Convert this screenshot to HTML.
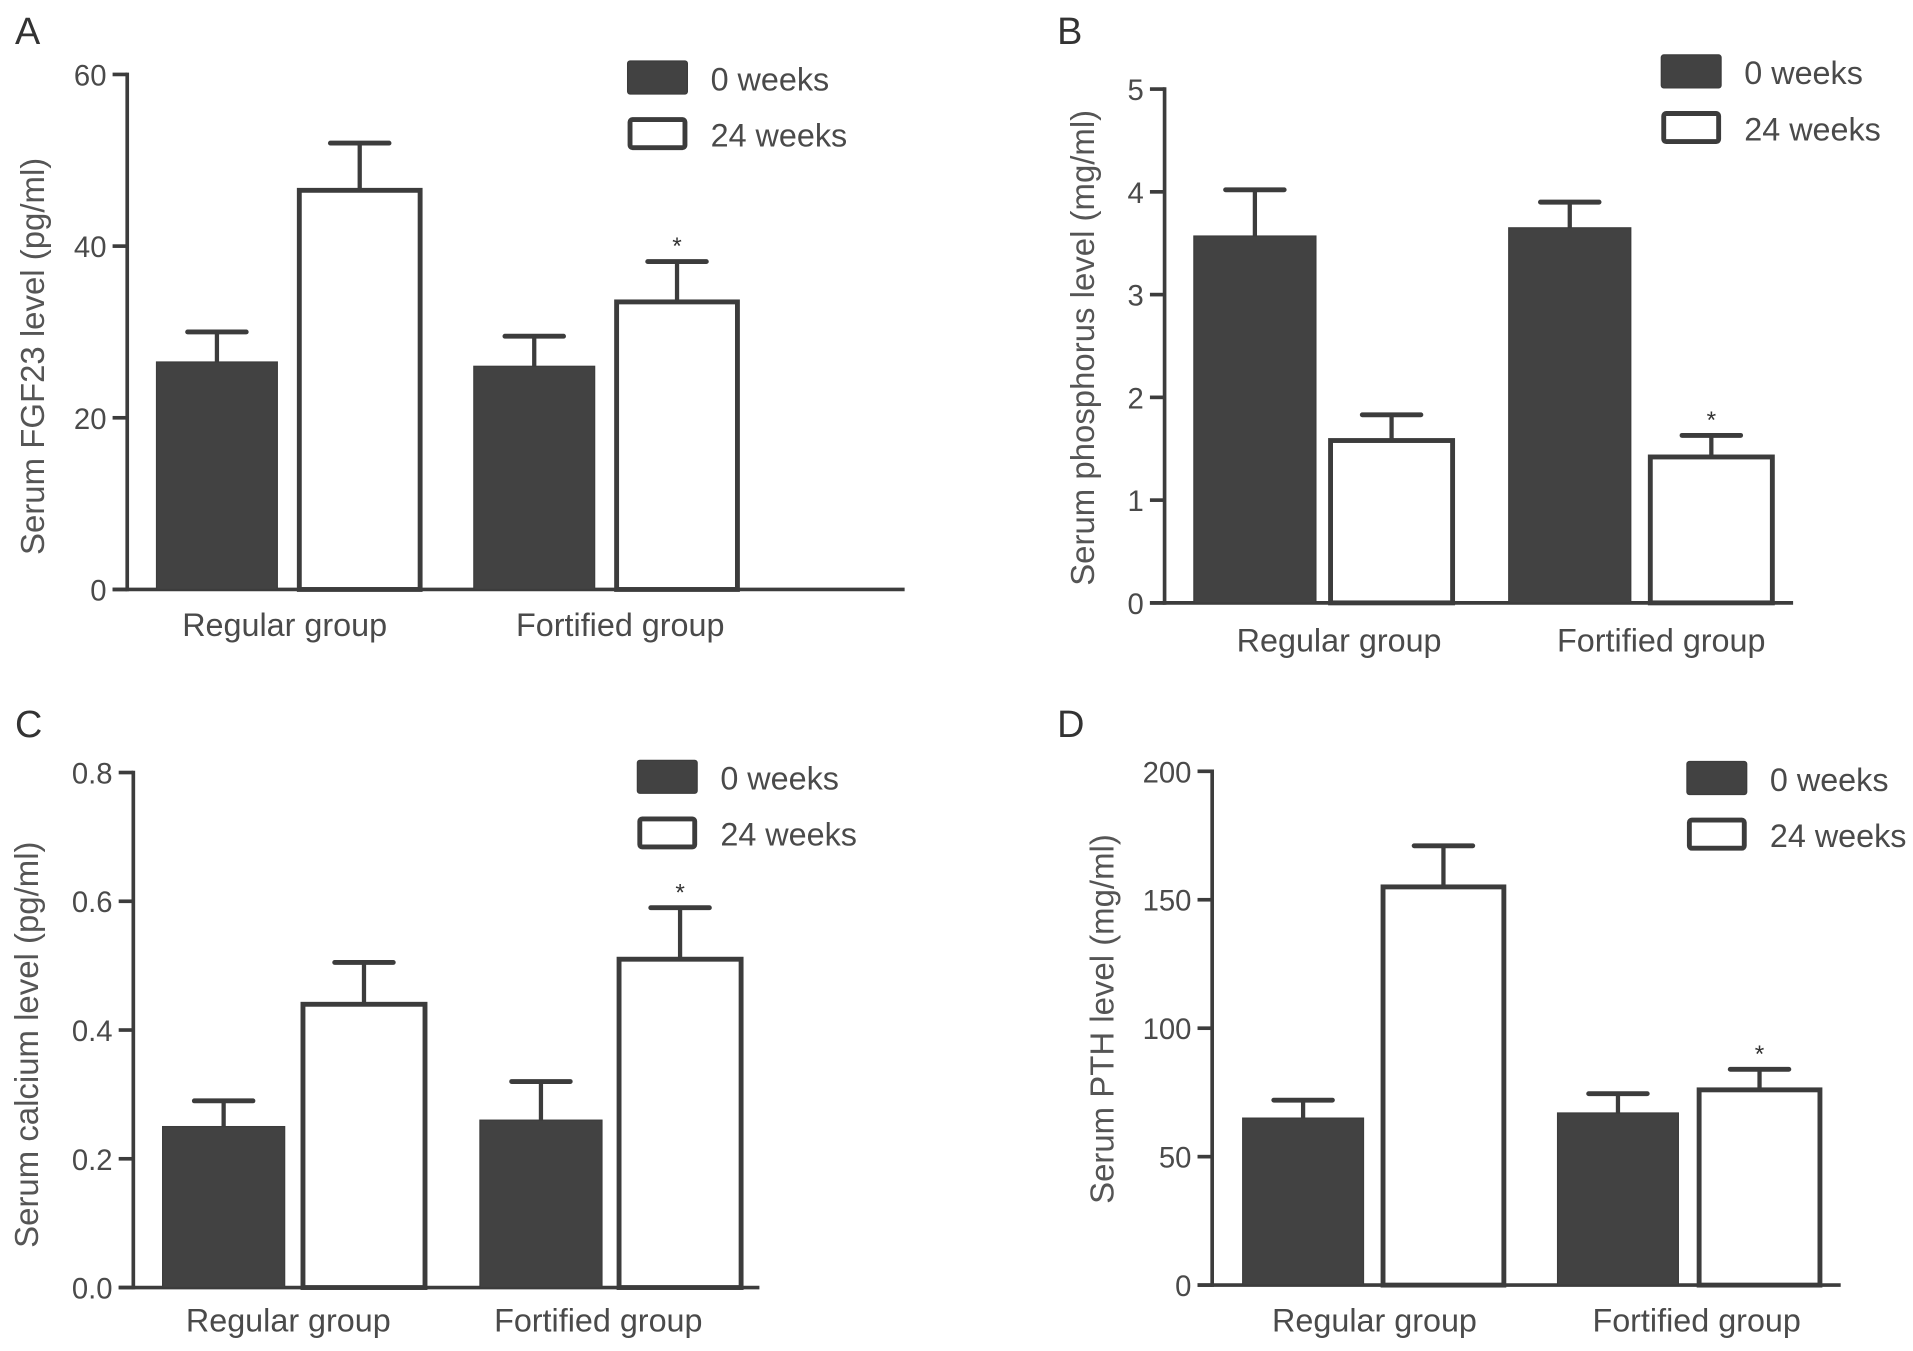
<!DOCTYPE html>
<html><head><meta charset="utf-8"><style>
html,body{margin:0;padding:0;background:#fff;}
svg{display:block;font-family:"Liberation Sans",sans-serif;}
</style></head><body>
<svg id="fig" width="1913" height="1351" viewBox="0 0 1567 1107" xmlns="http://www.w3.org/2000/svg"></svg>
<script>
const categories = ["Regular group", "Fortified group"];
const seriesNames = ["0 weeks", "24 weeks"];
// Panel A: FGF23
const aWeek0 = [26.5, 26];
const aWeek24 = [46.5, 33.5];
const aErr0 = [30, 29.5];
const aErr24 = [52, 38.2];
const aTicks = [0, 20, 40, 60];
const aTickLabels = ["0", "20", "40", "60"];
// Panel B: phosphorus
const bWeek0 = [3.57, 3.65];
const bWeek24 = [1.58, 1.42];
const bErr0 = [4.02, 3.9];
const bErr24 = [1.83, 1.63];
const bTicks = [0, 1, 2, 3, 4, 5];
const bTickLabels = ["0", "1", "2", "3", "4", "5"];
// Panel C: calcium
const cWeek0 = [0.25, 0.26];
const cWeek24 = [0.44, 0.51];
const cErr0 = [0.29, 0.32];
const cErr24 = [0.505, 0.59];
const cTicks = [0, 0.2, 0.4, 0.6, 0.8];
const cTickLabels = ["0.0", "0.2", "0.4", "0.6", "0.8"];
// Panel D: PTH
const dWeek0 = [65, 67];
const dWeek24 = [155, 76];
const dErr0 = [72, 74.5];
const dErr24 = [171, 84];
const dTicks = [0, 50, 100, 150, 200];
const dTickLabels = ["0", "50", "100", "150", "200"];

const NS = "http://www.w3.org/2000/svg";
const svg = document.getElementById("fig");
function mk(tag, attrs, parent) {
  const e = document.createElementNS(NS, tag);
  for (const k in attrs) e.setAttribute(k, attrs[k]);
  (parent || svg).appendChild(e);
  return e;
}
const DARK = "#424242", STROKE = "#3c3c3c", TXT = "#4a4a4a";

function panel(cfg) {
  const g = mk("g", {});
  
  
  const ys = v => cfg.y0 + (v - cfg.vmin) / (cfg.vmax - cfg.vmin) * (cfg.yTop - cfg.y0);
  const lt = mk("text", {x: cfg.letterX, y: cfg.letterY, "font-size": 31, fill: "#333"}, g);
  lt.textContent = cfg.id.toUpperCase();
  
  
  const ya = mk("line", {x1: cfg.ax, x2: cfg.ax, y1: ys(cfg.vmax) - 1.5, y2: cfg.y0 + 1.5, stroke: STROKE, "stroke-width": 3}, g);
  
  
  cfg.ticks.forEach((t, i) => {
    const y = ys(t);
    const tk = mk("line", {x1: cfg.ax - 12, x2: cfg.ax, y1: y, y2: y, stroke: STROKE, "stroke-width": 3}, g);
    
    
    const tl = mk("text", {x: cfg.ax - 17, y: y + 9, "font-size": 24, fill: TXT, "text-anchor": "end"}, g);
    tl.textContent = cfg.tickLabels[i];
    
    
  });
  const xa = mk("line", {x1: cfg.ax - 12, x2: cfg.xEnd, y1: cfg.y0, y2: cfg.y0, stroke: STROKE, "stroke-width": 3}, g);
  
  
  const yl = mk("text", {x: 0, y: 0, "font-size": 27, fill: "#555", "text-anchor": "middle", transform: `translate(${cfg.ylx},${cfg.yly}) rotate(-90)`}, g);
  yl.textContent = cfg.ylabel;
  
  
  const series = [[cfg.w0, cfg.e0], [cfg.w24, cfg.e24]];
  categories.forEach((c, ci) => {
    series.forEach((s, si) => {
      const x = cfg.barX[ci][si], w = cfg.barW;
      const yt = ys(s[0][ci]), ye = ys(s[1][ci]);
      const cx = x + w / 2;
      const el = mk("line", {x1: cx, x2: cx, y1: yt, y2: ye, stroke: STROKE, "stroke-width": 3.5}, g);
      
      
      const cap = mk("line", {x1: cx - 24, x2: cx + 24, y1: ye, y2: ye, stroke: STROKE, "stroke-width": 4, "stroke-linecap": "round"}, g);
      
      
      const r = mk("rect", {x: x, y: yt, width: w, height: cfg.y0 - yt, fill: si === 0 ? DARK : "#fff", stroke: STROKE, "stroke-width": si === 0 ? 1 : 4}, g);
      
      
      if (ci === 1 && si === 1) {
        const st = mk("text", {x: cx, y: ye - 6, "font-size": 20, fill: "#333", "text-anchor": "middle"}, g);
        st.textContent = "*";
        
        
      }
    });
    const cl = mk("text", {x: cfg.catX[ci], y: cfg.catY, "font-size": 26.5, fill: TXT, "text-anchor": "middle"}, g);
    cl.textContent = c;
    
    
  });
  seriesNames.forEach((n, i) => {
    const by = cfg.legY[i];
    const lb = mk("rect", {x: cfg.legX + (i ? 2 : 0), y: by + (i ? 2 : 0), width: i ? 45 : 49, height: i ? 23 : 27, rx: 2, fill: i ? "#fff" : DARK, stroke: STROKE, "stroke-width": i ? 4 : 1}, g);
    
    
    const lx = mk("text", {x: cfg.legX + 68, y: by + 24, "font-size": 26.5, fill: TXT}, g);
    lx.textContent = n;
    
    
  });
}

panel({id: "a", letterX: 12, letterY: 36, ax: 104, xEnd: 741, y0: 483, yTop: 61, vmin: 0, vmax: 60,
  ticks: aTicks, tickLabels: aTickLabels, w0: aWeek0, w24: aWeek24, e0: aErr0, e24: aErr24,
  barX: [[128, 245], [388, 505]], barW: 99, catX: [233, 508], catY: 521,
  ylabel: "Serum FGF23 level (pg/ml)", ylx: 36, yly: 292, legX: 514, legY: [50, 96]});
panel({id: "b", letterX: 866, letterY: 36, ax: 954, xEnd: 1469, y0: 494, yTop: 73, vmin: 0, vmax: 5,
  ticks: bTicks, tickLabels: bTickLabels, w0: bWeek0, w24: bWeek24, e0: bErr0, e24: bErr24,
  barX: [[978, 1090], [1236, 1352]], barW: 100, catX: [1097, 1361], catY: 534,
  ylabel: "Serum phosphorus level (mg/ml)", ylx: 896, yly: 285, legX: 1361, legY: [45, 91]});
panel({id: "c", letterX: 12, letterY: 604, ax: 109, xEnd: 622, y0: 1055, yTop: 633, vmin: 0, vmax: 0.8,
  ticks: cTicks, tickLabels: cTickLabels, w0: cWeek0, w24: cWeek24, e0: cErr0, e24: cErr24,
  barX: [[133, 248], [393, 507]], barW: 100, catX: [236, 490], catY: 1091,
  ylabel: "Serum calcium level (pg/ml)", ylx: 31, yly: 856, legX: 522, legY: [623, 669]});
panel({id: "d", letterX: 866, letterY: 604, ax: 993, xEnd: 1508, y0: 1053, yTop: 632, vmin: 0, vmax: 200,
  ticks: dTicks, tickLabels: dTickLabels, w0: dWeek0, w24: dWeek24, e0: dErr0, e24: dErr24,
  barX: [[1018, 1133], [1276, 1392]], barW: 99, catX: [1126, 1390], catY: 1091,
  ylabel: "Serum PTH level (mg/ml)", ylx: 912, yly: 835, legX: 1382, legY: [624, 670]});
</script>
</body></html>
